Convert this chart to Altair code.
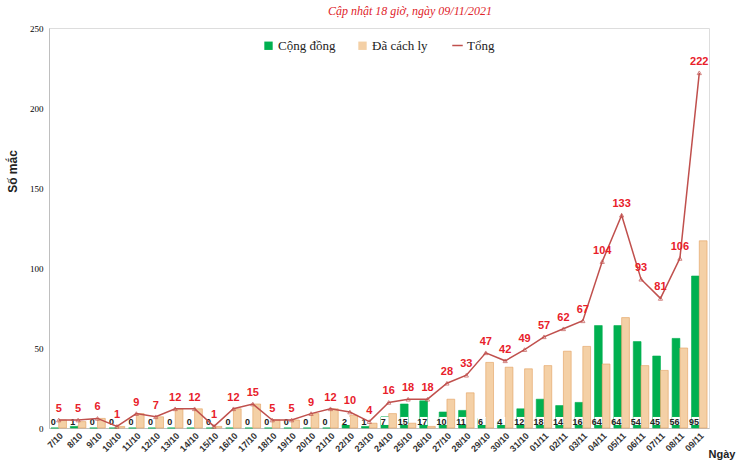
import altair as alt
import pandas as pd

dates = ["7/10", "8/10", "9/10", "10/10", "11/10", "12/10", "13/10", "14/10", "15/10",
         "16/10", "17/10", "18/10", "19/10", "20/10", "21/10", "22/10", "23/10", "24/10",
         "25/10", "26/10", "27/10", "28/10", "29/10", "30/10", "31/10", "01/11", "02/11",
         "03/11", "04/11", "05/11", "06/11", "07/11", "08/11", "09/11"]
cong_dong = [0, 1, 0, 0, 0, 0, 0, 0, 0, 0, 0, 0, 0, 0, 0, 2, 1, 7, 15, 17, 10, 11, 6, 4,
             12, 18, 14, 16, 64, 64, 54, 45, 56, 95]
cach_ly = [5, 4, 6, 1, 9, 7, 12, 12, 1, 12, 15, 5, 5, 9, 12, 8, 3, 9, 3, 1, 18, 22, 41, 38,
           37, 39, 48, 51, 40, 69, 39, 36, 50, 117]
tong = [5, 5, 6, 1, 9, 7, 12, 12, 1, 12, 15, 5, 5, 9, 12, 10, 4, 16, 18, 18, 28, 33, 47, 42,
        49, 57, 62, 67, 104, 133, 93, 81, 106, 222]

series_names = ["Cộng đồng", "Đã cách ly"]

rows = []
for d, c, k in zip(dates, cong_dong, cach_ly):
    rows.append({"date": d, "series": series_names[0], "value": c})
    rows.append({"date": d, "series": series_names[1], "value": k})
bars_df = pd.DataFrame(rows)
cd_df = bars_df[bars_df["series"] == series_names[0]].copy()
tot_df = pd.DataFrame({"date": dates, "tong": tong, "s": ["Tổng"] * len(dates)})

SANS = "Liberation Sans"
SERIF = "Liberation Serif"

x_enc = alt.X(
    "date:N", sort=dates,
    scale=alt.Scale(paddingInner=0.2, paddingOuter=0.1),
    axis=alt.Axis(
        title="Ngày", labelAngle=-45, labelFont=SANS, labelFontWeight="bold",
        labelFontSize=9, labelColor="#333333", ticks=False, domainColor="#BFBFBF",
        labelPadding=3, titleFont=SANS, titleFontSize=11, titleFontWeight="bold",
        titleX=659, titleY=20, titleAlign="left", titleBaseline="top",
        titleColor="#222222",
    ),
)
y_axis = alt.Axis(
    title="Số mắc", values=[0, 50, 100, 150, 200, 250], grid=False, ticks=False,
    domainColor="#BFBFBF", labelFont=SERIF, labelFontSize=9, labelColor="#000000",
    labelPadding=6, titleFont=SANS, titleFontSize=12, titleFontWeight="bold",
    titleColor="#222222", titleX=-37, titleY=143, titleBaseline="middle",
)
y_scale = alt.Scale(domain=[0, 250], nice=False)
xoff = alt.XOffset("series:N", sort=series_names,
                   scale=alt.Scale(domain=series_names, paddingInner=0, paddingOuter=0))

bars = alt.Chart(bars_df).mark_bar(strokeWidth=0.6).encode(
    x=x_enc,
    xOffset=xoff,
    y=alt.Y("value:Q", scale=y_scale, axis=y_axis),
    color=alt.Color(
        "series:N", sort=series_names,
        scale=alt.Scale(domain=series_names, range=["#00B050", "#F4D0A6"]),
        legend=alt.Legend(
            title=None, orient="none", legendX=213, legendY=11, direction="horizontal",
            symbolType="square", symbolSize=70, labelFont=SERIF, labelFontSize=13,
            labelColor="#222222", columnPadding=20, labelOffset=3, symbolStrokeWidth=0,
        ),
    ),
    stroke=alt.Stroke(
        "series:N", sort=series_names,
        scale=alt.Scale(domain=series_names, range=["#00B050", "#E3A05E"]),
        legend=None,
    ),
)

boxes = alt.Chart(cd_df).mark_bar(color="white").encode(
    x=x_enc,
    xOffset=xoff,
    y=alt.Y("lo:Q", scale=y_scale, axis=y_axis),
    y2="hi:Q",
).transform_calculate(lo="datum.value > 0 ? 1.9 : 0", hi="datum.value > 0 ? 6.9 : 0")

cd_text = alt.Chart(cd_df).mark_text(
    font=SANS, fontSize=9, fontWeight="bold", color="#222222", baseline="middle", dx=-1.5
).encode(
    x=x_enc,
    xOffset=xoff,
    y=alt.Y("ypos:Q", scale=y_scale, axis=y_axis),
    text="value:Q",
).transform_calculate(ypos="4.0")

line = alt.Chart(tot_df).mark_line(strokeWidth=1.5).encode(
    x=x_enc,
    y=alt.Y("tong:Q", scale=y_scale, axis=y_axis),
    color=alt.Color(
        "s:N",
        scale=alt.Scale(domain=["Tổng"], range=["#C0504D"]),
        legend=alt.Legend(
            title=None, orient="none", legendX=402, legendY=11, direction="horizontal",
            symbolType="stroke", symbolStrokeWidth=1.5, symbolSize=110, labelOffset=3,
            labelFont=SERIF, labelFontSize=13, labelColor="#222222",
        ),
    ),
)

points = alt.Chart(tot_df).mark_point(
    shape="triangle-up", filled=False, size=18, color="#C0504D", strokeWidth=1
).encode(
    x=x_enc,
    y=alt.Y("tong:Q", scale=y_scale, axis=y_axis),
)

tot_text = alt.Chart(tot_df).mark_text(
    font=SANS, fontSize=11, fontWeight="bold", color="#E8202A", baseline="bottom", dy=-6
).encode(
    x=x_enc,
    y=alt.Y("tong:Q", scale=y_scale, axis=y_axis),
    text="tong:Q",
)

chart = alt.layer(bars, boxes, cd_text, line, points, tot_text).resolve_scale(
    color="independent"
).properties(
    width=660, height=400,
    padding={"left": 49, "top": 28, "right": 27, "bottom": 32},
    autosize=alt.AutoSizeParams(type="none"),
    title=alt.TitleParams(
        "Cập nhật 18 giờ, ngày 09/11/2021", font=SERIF, fontStyle="italic",
        fontSize=12, fontWeight="normal", color="#E0242B", anchor="middle",
        offset=6, dx=31,
    ),
).configure_view(stroke=None).configure(background="white")

chart.save("out.html", embed_options={"renderer": "svg", "actions": False})
